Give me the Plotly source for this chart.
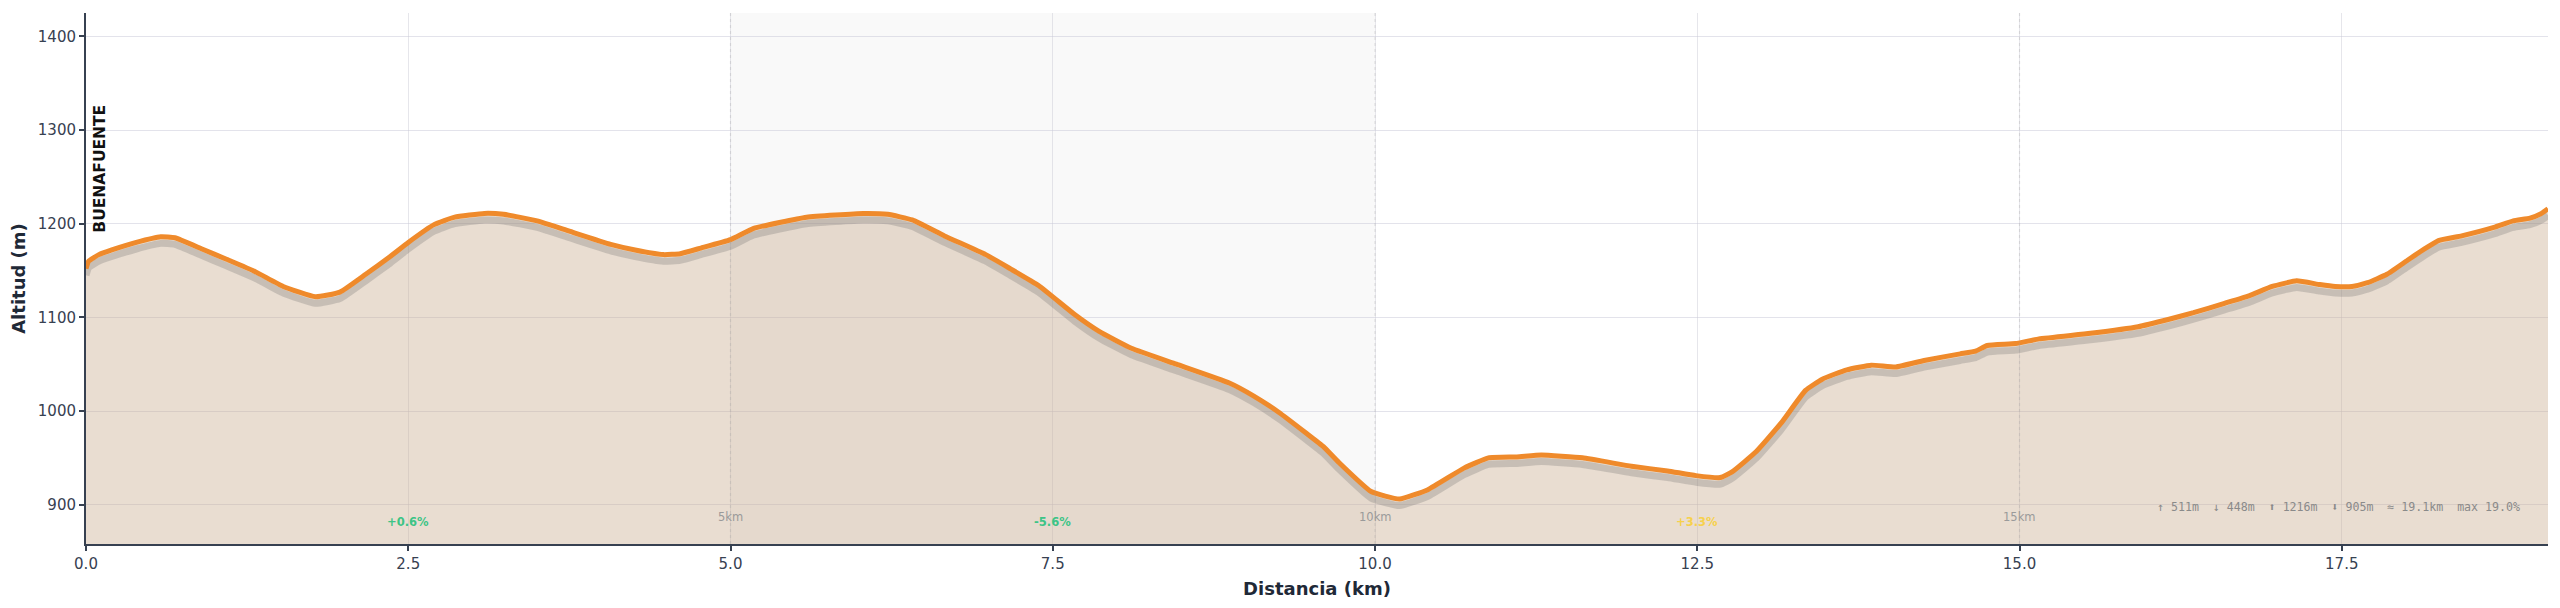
import plotly.graph_objects as go

# ---- data ----
dist_km = [0.00, 0.02, 0.10, 0.20, 0.39, 0.58, 0.69, 0.90, 1.09, 1.31, 1.53, 1.78, 1.97, 2.17, 2.36,
           2.50, 2.70, 2.86, 3.09, 3.24, 3.50, 3.75, 4.07, 4.26, 4.48, 4.61, 4.77, 5.00, 5.18, 5.59,
           6.03, 6.22, 6.41, 6.66, 6.98, 7.17, 7.39, 7.67, 7.86, 8.11, 8.46, 8.87, 9.06, 9.25, 9.47,
           9.60, 9.72, 9.97, 10.19, 10.41, 10.69, 10.88, 11.10, 11.29, 11.61, 11.99, 12.27, 12.49,
           12.68, 12.77, 12.96, 13.15, 13.34, 13.47, 13.66, 13.85, 14.04, 14.26, 14.54, 14.66, 14.75,
           14.97, 15.15, 15.55, 15.92, 16.16, 16.35, 16.59, 16.78, 16.96, 17.15, 17.33, 17.45, 17.58,
           17.70, 17.85, 18.01, 18.13, 18.25, 18.43, 18.68, 18.83, 18.96, 19.05, 19.10]
elev_m = [1152, 1160, 1167, 1172, 1180, 1186, 1185, 1173, 1162, 1149, 1133, 1122, 1127, 1146, 1165,
          1180, 1199, 1207, 1211, 1210, 1203, 1192, 1178, 1172, 1167, 1168, 1174, 1183, 1195, 1207,
          1211, 1210, 1204, 1187, 1167, 1152, 1134, 1103, 1085, 1067, 1050, 1030, 1016, 999, 976,
          962, 945, 914, 906, 916, 939, 950, 951, 953, 950, 941, 936, 931,
          929, 935, 957, 987, 1022, 1034, 1044, 1049, 1047, 1054, 1061, 1064, 1070,
          1072, 1077, 1083, 1090, 1098, 1105, 1115, 1123, 1133, 1139, 1135, 1133, 1133,
          1137, 1146, 1161, 1172, 1182, 1187, 1196, 1203, 1206, 1211, 1216]

km_markers = [5, 10, 15]
km_labels = ["5km", "10km", "15km"]

grade_x = [2.5, 7.5, 12.5]
grade_labels = ["+0.6%", "-5.6%", "+3.3%"]
grade_colors = ["#3cc486", "#3cc486", "#f7d14c"]

highlight_range = [5, 10]
start_name = "BUENAFUENTE"
stats_text = "↑ 511m  ↓ 448m  ⬆ 1216m  ⬇ 905m  ≈ 19.1km  max 19.0%"

x_ticks = [0, 2.5, 5, 7.5, 10, 12.5, 15, 17.5]
y_ticks = [900, 1000, 1100, 1200, 1300, 1400]

shadow_offset = 7

fig = go.Figure()

# filled area
fig.add_trace(go.Scatter(x=dist_km, y=elev_m, mode="lines", fill="tozeroy",
                         fillcolor="rgba(200,170,140,0.4)", line=dict(width=0, color="rgba(0,0,0,0)"),
                         hoverinfo="skip", showlegend=False))
# shadow line
fig.add_trace(go.Scatter(x=dist_km, y=[e - shadow_offset for e in elev_m], mode="lines",
                         line=dict(color="rgba(100,100,100,0.25)", width=7, shape="spline", smoothing=0.4),
                         hoverinfo="skip", showlegend=False))
# main line
fig.add_trace(go.Scatter(x=dist_km, y=elev_m, mode="lines",
                         line=dict(color="#ef8a2b", width=5, shape="spline", smoothing=0.4),
                         showlegend=False))

# highlighted segment
fig.add_vrect(x0=highlight_range[0], x1=highlight_range[1], fillcolor="rgba(0,0,0,0.022)",
              line=dict(width=0), layer="below")

# km markers
for xm, lab in zip(km_markers, km_labels):
    fig.add_shape(type="line", x0=xm, x1=xm, y0=0, y1=1, xref="x", yref="paper",
                  line=dict(color="rgba(160,160,160,0.28)", width=1.2, dash="dot"), layer="above")
    fig.add_annotation(x=xm, y=887, text=lab, showarrow=False, xanchor="center", yanchor="middle",
                       font=dict(family="DejaVu Sans", size=11.5, color="#9a9a9a"))

# grade annotations
for gx, gl, gc in zip(grade_x, grade_labels, grade_colors):
    fig.add_annotation(x=gx, y=881, text="<b>" + gl + "</b>", showarrow=False, xanchor="center",
                       yanchor="middle", font=dict(family="DejaVu Sans", size=11.5, color=gc))

# start name
fig.add_annotation(x=0.11, y=1259, text="<b>" + start_name + "</b>", textangle=-90, showarrow=False,
                   xanchor="center", yanchor="middle",
                   font=dict(family="DejaVu Sans", size=15.5, color="#111111"))

# stats
fig.add_annotation(x=0.9895, xref="paper", y=898, text=stats_text, showarrow=False,
                   xanchor="right", yanchor="middle",
                   font=dict(family="DejaVu Sans Mono", size=11.6, color="#8a8a8a"))

fig.update_layout(
    width=2560, height=608,
    margin=dict(l=86, r=12, t=13, b=64),
    paper_bgcolor="white", plot_bgcolor="white",
    font=dict(family="DejaVu Sans", color="#374151"),
    showlegend=False,
)
fig.update_xaxes(range=[0, 19.1], tickvals=x_ticks, ticktext=[f"{v:.1f}" for v in x_ticks],
                 showgrid=True, gridcolor="rgba(200,200,210,0.45)", gridwidth=1,
                 showline=True, linecolor="#374151", linewidth=2,
                 ticks="outside", ticklen=5, tickcolor="#374151", tickwidth=1.5,
                 tickfont=dict(size=15, color="#374151"), zeroline=False,
                 title=dict(text="<b>Distancia (km)</b>", font=dict(size=18, color="#1f2937"), standoff=10))
fig.update_yaxes(range=[858, 1425], tickvals=y_ticks,
                 showgrid=True, gridcolor="rgba(200,200,215,0.5)", gridwidth=1,
                 showline=True, linecolor="#374151", linewidth=2,
                 ticks="outside", ticklen=5, tickcolor="#374151", tickwidth=1.5,
                 tickfont=dict(size=15, color="#374151"), zeroline=False,
                 title=dict(text="<b>Altitud (m)</b>", font=dict(size=18, color="#1f2937"), standoff=8))

fig.write_html("out.html")
